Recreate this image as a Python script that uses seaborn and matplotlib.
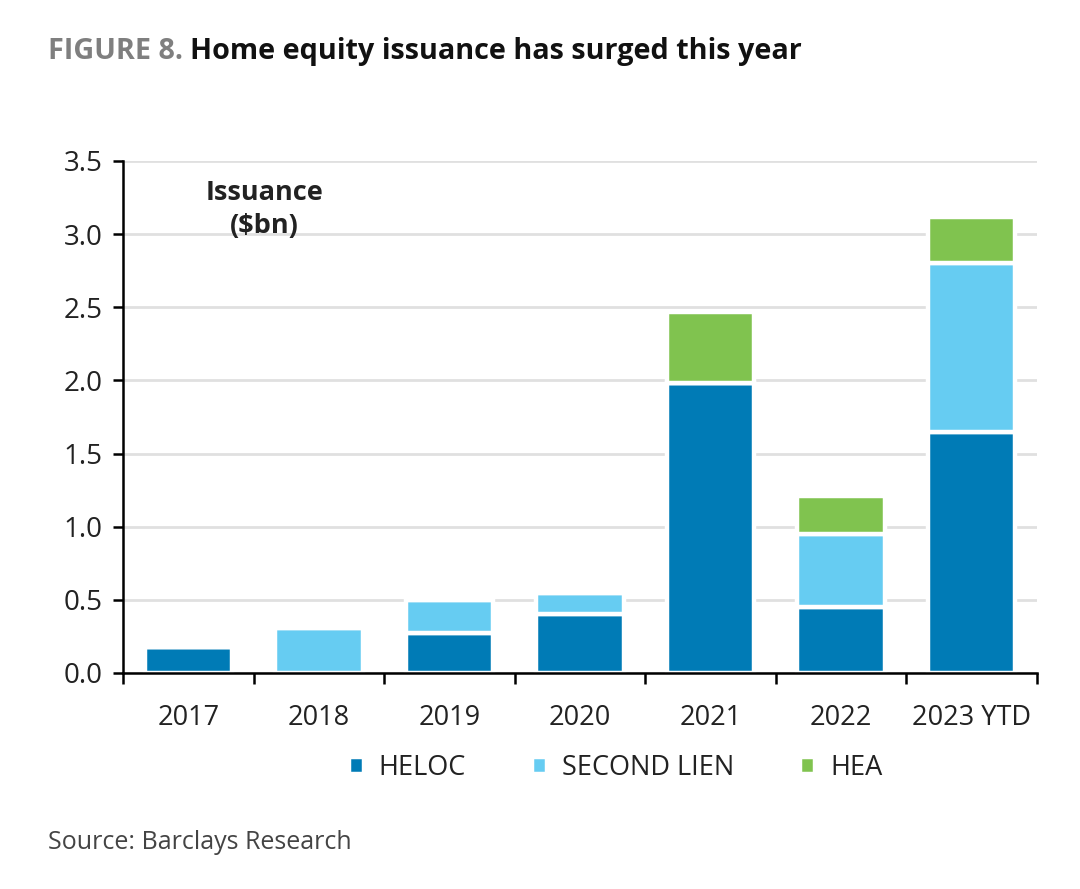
import numpy as np
import pandas as pd
import matplotlib
matplotlib.use("Agg")
import matplotlib.pyplot as plt
from matplotlib.ticker import FixedLocator
import seaborn as sns

years = ["2017", "2018", "2019", "2020", "2021", "2022", "2023 YTD"]
heloc = [0.18, 0.00, 0.27, 0.40, 1.98, 0.45, 1.65]
second_lien = [0.00, 0.31, 0.23, 0.15, 0.00, 0.50, 1.15]
hea = [0.00, 0.00, 0.00, 0.00, 0.49, 0.26, 0.32]

series_names = ["HELOC", "SECOND LIEN", "HEA"]
colors = ["#007bb6", "#66ccf2", "#80c34f"]

df = pd.DataFrame({"year": years, "HELOC": heloc,
                   "SECOND LIEN": second_lien, "HEA": hea})

sns.set_style("white")
plt.rcParams["font.family"] = ["Open Sans", "DejaVu Sans"]

fig = plt.figure(figsize=(10.8, 8.89), dpi=100)
ax = fig.add_axes([0.114, 0.243, 0.846, 0.576])

# stacked bars, one barplot call per series
bottom = np.zeros(len(years))
for name, col in zip(series_names, colors):
    sns.barplot(data=df, x="year", y=name, color=col, saturation=1,
                width=0.67, bottom=bottom.copy(), edgecolor="white",
                linewidth=3.2, label=name, ax=ax, zorder=2)
    bottom += df[name].values

if ax.get_legend() is not None:
    ax.get_legend().remove()

ax.set_xlim(-0.5, 6.5)
ax.set_ylim(0, 3.5)
ax.set_yticks(np.arange(0, 3.51, 0.5))
ax.set_yticklabels([f"{v:.1f}" for v in np.arange(0, 3.51, 0.5)])
ax.set_xlabel("")
ax.set_ylabel("")

ax.yaxis.grid(True, color="#e0e0e0", linewidth=2)
ax.set_axisbelow(True)
for s in ["top", "right"]:
    ax.spines[s].set_visible(False)
for s in ["left", "bottom"]:
    ax.spines[s].set_color("black")
    ax.spines[s].set_linewidth(1.8)
    ax.spines[s].set_zorder(3)

ax.tick_params(axis="y", direction="out", length=7, width=1.8,
               color="black", labelsize=20, pad=8, left=True)
ax.tick_params(axis="x", which="major", length=0, labelsize=19.5, pad=22)
ax.xaxis.set_minor_locator(FixedLocator(np.arange(-0.5, 7, 1)))
ax.tick_params(axis="x", which="minor", direction="out", length=8,
               width=1.8, color="black", bottom=True)
for lbl in ax.get_xticklabels() + ax.get_yticklabels():
    lbl.set_color("#222222")

ax.text(0.155, 0.962, "Issuance\n($bn)", transform=ax.transAxes,
        ha="center", va="top", fontsize=19.5, fontweight="bold",
        color="#222222", linespacing=1.35)

handles, labels = ax.get_legend_handles_labels()
leg = fig.legend(handles, labels, loc="center", ncol=3,
                 bbox_to_anchor=(0.570, 0.136), frameon=False,
                 fontsize=19.5, handlelength=0.55, handleheight=0.55,
                 handletextpad=0.55, columnspacing=2.45)
for t in leg.get_texts():
    t.set_color("#222222")

# title in two colours
t1 = fig.text(0.044, 0.942, "FIGURE 8.", fontsize=20.7, fontweight="bold",
              color="#7f7f7f", ha="left", va="center")
fig.canvas.draw()
bb = t1.get_window_extent(renderer=fig.canvas.get_renderer())
x2 = (bb.x1 + 7) / fig.bbox.width
fig.text(x2, 0.942, "Home equity issuance has surged this year",
         fontsize=20.7, fontweight="bold", color="#111111",
         ha="left", va="center")

fig.text(0.044, 0.052, "Source: Barclays Research", fontsize=18,
         color="#444444", ha="left", va="center")

fig.savefig("out.png", dpi=100)
